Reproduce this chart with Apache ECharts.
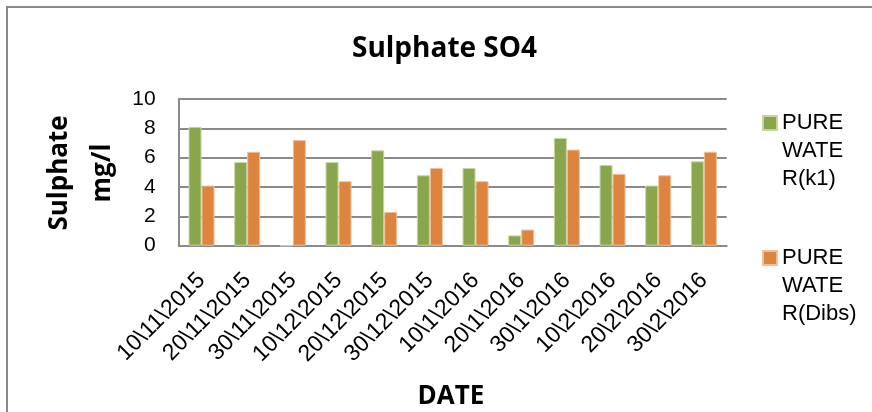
<!DOCTYPE html>
<html>
<head>
<meta charset="utf-8">
<script src="https://cdn.jsdelivr.net/npm/echarts@6/dist/echarts.min.js"></script>
<style>html,body{margin:0;padding:0;background:#fff}#c{width:872px;height:412px}</style>
</head>
<body>
<div id="c"></div>
<script>
const categories = ['10\\11\\2015','20\\11\\2015','30\\11\\2015','10\\12\\2015','20\\12\\2015','30\\12\\2015','10\\1\\2016','20\\1\\2016','30\\1\\2016','10\\2\\2016','20\\2\\2016','30\\2\\2016'];
const k1 = [8.1, 5.7, 0, 5.7, 6.5, 4.8, 5.3, 0.7, 7.35, 5.5, 4.1, 5.75];
const dibs = [4.1, 6.4, 7.2, 4.4, 2.3, 5.3, 4.4, 1.1, 6.55, 4.9, 4.8, 6.4];
const seriesNames = ['PURE WATER(k1)', 'PURE WATER(Dibs)'];
const legendLabels = {'PURE WATER(k1)': ' \n \nPURE\nWATE\nR(k1)', 'PURE WATER(Dibs)': ' \n \nPURE\nWATE\nR(Dibs)'};

const chart = echarts.init(document.getElementById('c'));
const bold = {fontFamily: 'Open Sans', fontWeight: 'bold', fontSize: 26, fill: '#000'};
const legendText = {fontFamily: 'Liberation Sans', fontSize: 22, color: '#000', lineHeight: 28};
chart.setOption({
  animation: false,
  backgroundColor: '#fff',
  title: {text: 'Sulphate SO4', left: 352, top: 35, padding: 0,
    textStyle: {fontFamily: 'Open Sans', fontWeight: 'bold', fontSize: 28, color: '#000'}},
  grid: {left: 178.7, right: 145.3, top: 99, bottom: 166.3, containLabel: false},
  legend: [
    {data: [seriesNames[0]], orient: 'vertical', left: 762, top: 116 - 63, padding: 0, itemWidth: 14, itemHeight: 14,
     icon: 'rect', formatter: n => legendLabels[n], textStyle: legendText, itemGap: 0},
    {data: [seriesNames[1]], orient: 'vertical', left: 762, top: 251 - 63, padding: 0, itemWidth: 14, itemHeight: 14,
     icon: 'rect', formatter: n => legendLabels[n], textStyle: legendText, itemGap: 0}
  ],
  xAxis: {
    type: 'category', data: categories,
    axisLine: {show: true, lineStyle: {color: '#8a8a8a', width: 2}},
    axisTick: {show: false},
    axisLabel: {rotate: 45, margin: 31, interval: 0, fontFamily: 'Liberation Sans', fontSize: 23, color: '#000'}
  },
  yAxis: {
    type: 'value', min: 0, max: 10, interval: 2,
    axisLine: {show: true, lineStyle: {color: '#8a8a8a', width: 2}},
    axisTick: {show: false},
    splitLine: {show: true, lineStyle: {color: '#8a8a8a', width: 2}},
    axisLabel: {margin: 23, fontFamily: 'Liberation Sans', fontSize: 21, color: '#000'}
  },
  series: [
    {name: seriesNames[0], type: 'bar', data: k1, barWidth: 13, barGap: '0%',
     itemStyle: {color: '#8aa64d', borderColor: '#c5d6a4', borderWidth: 1}},
    {name: seriesNames[1], type: 'bar', data: dibs, barWidth: 13, barGap: '0%',
     itemStyle: {color: '#dd843f', borderColor: '#efc09a', borderWidth: 1}}
  ],
  graphic: [
    {type: 'rect', shape: {x: 7, y: 7, width: 900, height: 450}, style: {fill: 'none', stroke: '#8a8a8a', lineWidth: 2}, silent: true, z: -1},
    {type: 'text', x: 60, y: 173, rotation: Math.PI / 2, style: Object.assign({text: 'Sulphate', align: 'center', verticalAlign: 'middle'}, bold)},
    {type: 'text', x: 103, y: 173, rotation: Math.PI / 2, style: Object.assign({text: 'mg/l', align: 'center', verticalAlign: 'middle'}, bold)},
    {type: 'text', x: 451, y: 397, style: Object.assign({text: 'DATE', align: 'center', verticalAlign: 'middle'}, bold)}
  ]
});
</script>
</body>
</html>
